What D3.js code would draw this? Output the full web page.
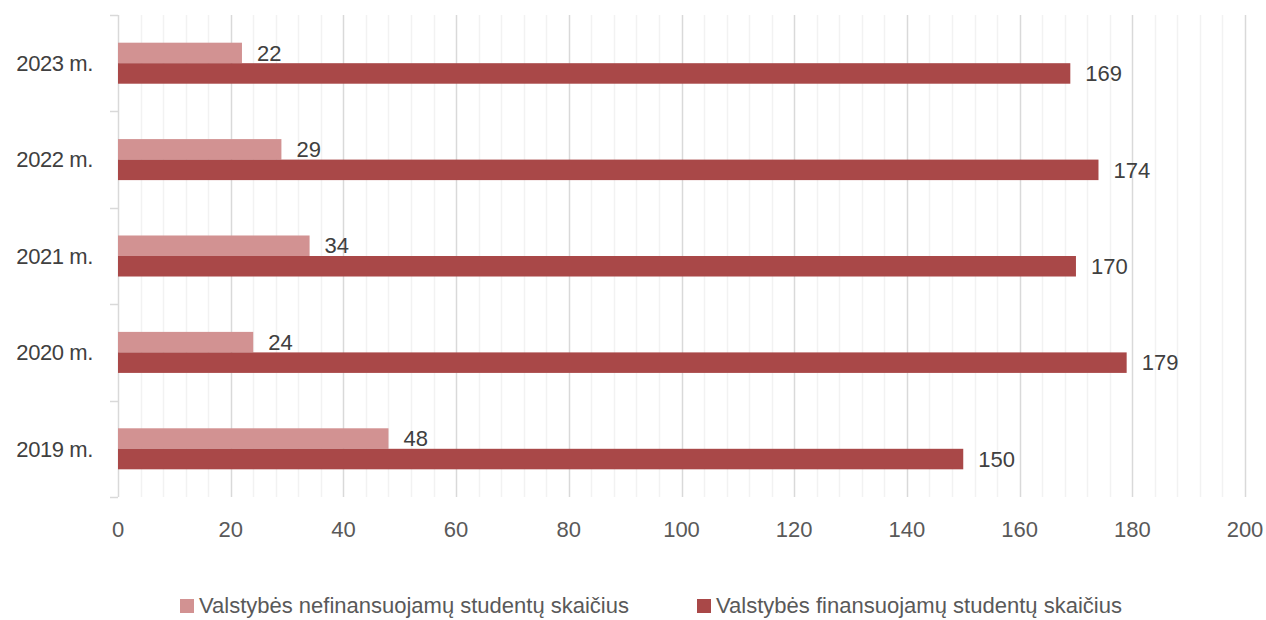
<!DOCTYPE html>
<html>
<head>
<meta charset="utf-8">
<script src="https://cdn.jsdelivr.net/npm/d3@7"></script>
<style>
  body { margin: 0; background: #fff; }
  svg { display: block; }
</style>
</head>
<body>
<script>
// data
const years = ["2023 m.", "2022 m.", "2021 m.", "2020 m.", "2019 m."];
const nefinansuojami = [22, 29, 34, 24, 48];
const finansuojami = [169, 174, 170, 179, 150];
const seriesNames = ["Valstybės nefinansuojamų studentų skaičius", "Valstybės finansuojamų studentų skaičius"];
const colors = ["#d29292", "#a94848"];
const xTicks = [0, 20, 40, 60, 80, 100, 120, 140, 160, 180, 200];

const width = 1266, height = 620;
const margin = {top: 15, right: 21, bottom: 123, left: 118};

const svg = d3.select("body").append("svg")
  .attr("width", width)
  .attr("height", height);

const x = d3.scaleLinear().domain([0, 200]).range([margin.left, width - margin.right]);
const y = d3.scaleBand().domain(years).range([margin.top, height - margin.bottom]).paddingInner(0).paddingOuter(0);
const sub = d3.scaleBand().domain([0, 1]).range([0, y.bandwidth()]).paddingInner(0).paddingOuter(1.35);

const font = "'Liberation Sans', Arial, sans-serif";

// minor grid
svg.append("g").selectAll("line")
  .data(d3.range(4, 201, 4).filter(v => v % 20 !== 0))
  .join("line")
  .attr("x1", d => Math.round(x(d)) + 0.5).attr("x2", d => Math.round(x(d)) + 0.5)
  .attr("y1", margin.top).attr("y2", height - margin.bottom)
  .attr("stroke", "#f2f2f2").attr("stroke-width", 1.5);

// major grid
svg.append("g").selectAll("line")
  .data(xTicks.slice(1))
  .join("line")
  .attr("x1", d => Math.round(x(d)) + 0.5).attr("x2", d => Math.round(x(d)) + 0.5)
  .attr("y1", margin.top).attr("y2", height - margin.bottom)
  .attr("stroke", "#d9d9d9").attr("stroke-width", 1.5);

// left axis line and ticks
const yAxis = svg.append("g");
yAxis.append("line")
  .attr("x1", margin.left + 0.5).attr("x2", margin.left + 0.5)
  .attr("y1", margin.top).attr("y2", height - margin.bottom)
  .attr("stroke", "#d9d9d9").attr("stroke-width", 1.5);
const bounds = years.map(d => y(d)).concat([height - margin.bottom]);
yAxis.selectAll("line.tick")
  .data(bounds)
  .join("line")
  .attr("class", "tick")
  .attr("x1", margin.left - 8).attr("x2", margin.left)
  .attr("y1", d => Math.round(d) + 0.5).attr("y2", d => Math.round(d) + 0.5)
  .attr("stroke", "#d9d9d9").attr("stroke-width", 1.5);

yAxis.selectAll("text")
  .data(years)
  .join("text")
  .attr("x", 93)
  .attr("y", d => y(d) + y.bandwidth() / 2)
  .attr("dy", "0.35em")
  .attr("text-anchor", "end")
  .attr("font-family", font)
  .attr("font-size", 22)
  .attr("letter-spacing", -0.4)
  .attr("fill", "#404040")
  .text(d => d);

// x tick labels
svg.append("g").selectAll("text")
  .data(xTicks)
  .join("text")
  .attr("x", d => x(d))
  .attr("y", 529)
  .attr("dy", "0.35em")
  .attr("text-anchor", "middle")
  .attr("font-family", font)
  .attr("font-size", 22)
  .attr("fill", "#595959")
  .text(d => d);

// bars
const rows = years.map((yr, i) => ({yr, vals: [nefinansuojami[i], finansuojami[i]]}));
const groups = svg.append("g").selectAll("g")
  .data(rows)
  .join("g")
  .attr("transform", d => `translate(0,${y(d.yr)})`);

groups.selectAll("rect")
  .data(d => d.vals.map((v, k) => ({v, k})))
  .join("rect")
  .attr("x", x(0))
  .attr("y", d => sub(d.k))
  .attr("width", d => x(d.v) - x(0))
  .attr("height", sub.bandwidth())
  .attr("fill", d => colors[d.k]);

groups.selectAll("text")
  .data(d => d.vals.map((v, k) => ({v, k})))
  .join("text")
  .attr("x", d => x(d.v) + 15)
  .attr("y", d => sub(d.k) + sub.bandwidth() / 2)
  .attr("dy", "0.35em")
  .attr("font-family", font)
  .attr("font-size", 22)
  .attr("fill", "#404040")
  .text(d => d.v);

// legend
const legendX = [180, 697];
const legendW = [430, 406];
const legend = svg.append("g").selectAll("g")
  .data(seriesNames)
  .join("g")
  .attr("transform", (d, i) => `translate(${legendX[i]},613)`);
legend.append("rect")
  .attr("x", 0).attr("y", -14)
  .attr("width", 14).attr("height", 14)
  .attr("fill", (d, i) => colors[i]);
legend.append("text")
  .attr("x", 19)
  .attr("y", 0)
  .attr("font-family", font)
  .attr("font-size", 22)
  .attr("textLength", (d, i) => legendW[i])
  .attr("lengthAdjust", "spacingAndGlyphs")
  .attr("fill", "#595959")
  .text(d => d);
</script>
</body>
</html>
